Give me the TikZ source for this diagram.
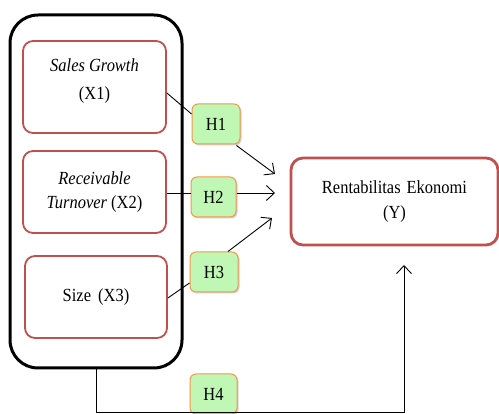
\documentclass[tikz,border=0pt]{standalone}
\usepackage{fontspec}
\setmainfont{Liberation Serif}[FakeStretch=0.89]
\usetikzlibrary{arrows.meta,shadows,calc}
\definecolor{boxred}{HTML}{C0504D}
\definecolor{horange}{HTML}{F79646}
\definecolor{hgreen}{HTML}{C0F7B4}
\begin{document}
\begin{tikzpicture}[x=1pt,y=-1pt,
  every node/.style={font=\fontsize{18.5}{25}\selectfont},
  outer/.style={draw=black, line width=3pt, rounded corners=28pt, minimum width=172pt, minimum height=353pt},
  varbox/.style={draw=boxred, line width=1.8pt, rounded corners=10pt, fill=white, align=center, inner sep=0pt},
  ybox/.style={varbox, line width=2.8pt, rounded corners=12pt, minimum width=207pt, minimum height=87pt},
  hbox/.style={draw=horange, line width=1pt, fill=hgreen, rounded corners=6pt, inner sep=0pt,
    drop shadow={shadow xshift=1.5pt, shadow yshift=-1.5pt, opacity=0.3, fill=black!60}},
  conn/.style={line width=0.9pt, draw=black},
  arr/.style={conn, -{Straight Barb[length=8pt,width=15pt,line width=0.9pt]}}
]
\useasboundingbox (0,0) rectangle (499,414);

\node[outer] (grp) at (96,191.5) {};
\node[varbox, minimum width=143pt, minimum height=92pt] (x1) at (94.5,87) {};
\node[align=center, inner sep=0pt] (x1t) at (94.5,81) {\itshape Sales Growth\\[3pt](X1)};
\node[varbox, minimum width=143pt, minimum height=82pt] (x2) at (94.5,192) {\itshape Receivable\\[-1pt]\itshape Turnover \upshape(X2)};
\node[varbox, minimum width=142pt, minimum height=82pt] (x3) at (96,297) {Size\hspace{3pt} (X3)};
\node[ybox] (y) at (394.5,201.5) {Rentabilitas\hspace{6pt}Ekonomi\\(Y)};

\node[hbox, minimum width=48pt, minimum height=40pt] (h1) at (216,124) {H1};
\node[hbox, minimum width=45pt, minimum height=40pt] (h2) at (213.5,197) {H2};
\node[hbox, minimum width=48pt, minimum height=40pt] (h3) at (214,272) {H3};
\node[hbox, minimum width=47pt, minimum height=40pt] (h4) at (213.5,394) {H4};

\coordinate (t1) at (275,174);
\coordinate (t2) at (275,193);
\coordinate (t3) at (272,218);
\coordinate (t4) at (404,265);
\coordinate (bl) at (404,412);

\draw[conn] ($(x1.east)+(0,6)$) -- ($(h1.west)+(0,-10)$);
\draw[arr] ($(h1.south east)+(-4,1)$) -- (t1);
\draw[conn] ($(x2.east)+(0,1)$) -- ($(h2.west)+(0,-4)$);
\draw[arr] ($(h2.east)+(0,-4)$) -- (t2);
\draw[conn] ($(x3.east)+(0,1)$) -- ($(h3.west)+(0,11)$);
\draw[arr] ($(h3.north)+(14,0)$) -- (t3);
\draw[arr] (grp.south) |- (bl) -- (t4);
\end{tikzpicture}
\end{document}
